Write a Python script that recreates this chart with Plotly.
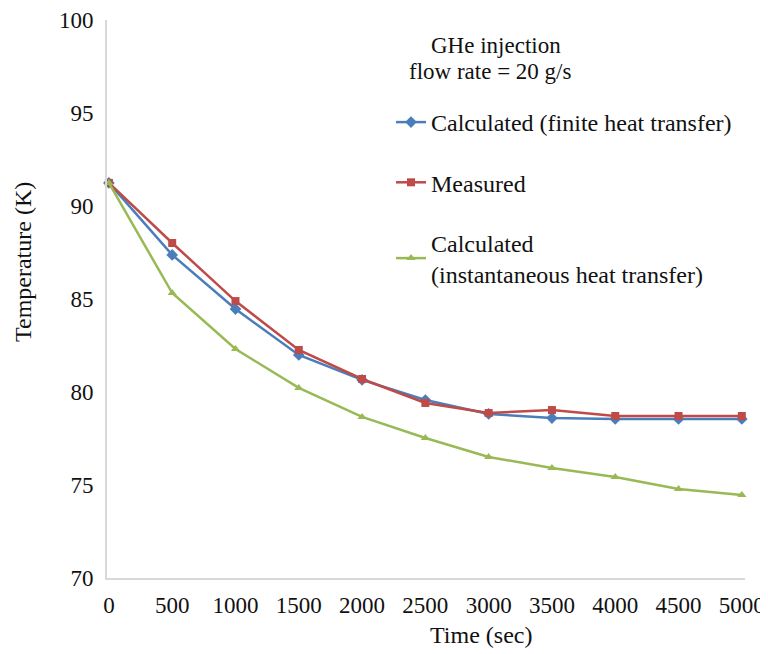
import plotly.graph_objects as go

time_s = [0, 500, 1000, 1500, 2000, 2500, 3000, 3500, 4000, 4500, 5000]
calc_finite = [91.24, 87.37, 84.46, 81.99, 80.65, 79.57, 78.82, 78.60, 78.55, 78.55, 78.55]
measured = [91.24, 88.01, 84.89, 82.26, 80.70, 79.41, 78.87, 79.03, 78.71, 78.71, 78.71]
calc_instant = [91.24, 85.32, 82.31, 80.22, 78.66, 77.53, 76.51, 75.91, 75.43, 74.78, 74.46]

x_ticks = [0, 500, 1000, 1500, 2000, 2500, 3000, 3500, 4000, 4500, 5000]
y_ticks = [70, 75, 80, 85, 90, 95, 100]

FONT = "Liberation Serif"
TXT = "#111111"

# page body has an 8px margin; work in screen pixels and convert
OFF = 8
W, H = 760, 646
PL, PR, PT, PB = 107, 745, 20, 578  # plot area in screen px


def px(xs):
    return (xs - PL) / (PR - PL)


def py(ys):
    return (PB - ys) / (PB - PT)


fig = go.Figure()
fig.add_trace(go.Scatter(
    x=time_s, y=calc_finite, name="Calculated (finite heat transfer)",
    mode="lines+markers", legendgroup="a",
    line=dict(color="#4A7EBB", width=2.5),
    marker=dict(symbol="diamond", size=9, color="#4A7EBB"),
    cliponaxis=False,
))
fig.add_trace(go.Scatter(
    x=time_s, y=measured, name="Measured",
    mode="lines+markers", legendgroup="b",
    line=dict(color="#BE4B48", width=2.5),
    marker=dict(symbol="square", size=8, color="#BE4B48"),
    cliponaxis=False,
))
fig.add_trace(go.Scatter(
    x=time_s, y=calc_instant, name="Calculated<br>(instantaneous heat transfer)",
    mode="lines+markers", legendgroup="c",
    line=dict(color="#98B954", width=2.5),
    marker=dict(symbol="triangle-up", size=8, color="#98B954"),
    cliponaxis=False,
))

# legend heading (two lines)
fig.add_annotation(
    text="GHe injection", xref="paper", yref="paper", x=px(496), y=py(45),
    xanchor="center", yanchor="middle", showarrow=False,
    font=dict(family=FONT, size=23, color=TXT),
)
fig.add_annotation(
    text="flow rate = 20 g/s", xref="paper", yref="paper", x=px(490), y=py(72),
    xanchor="center", yanchor="middle", showarrow=False,
    font=dict(family=FONT, size=23, color=TXT),
)
# axis titles
fig.add_annotation(
    text="Time (sec)", xref="paper", yref="paper", x=px(481), y=py(635),
    xanchor="center", yanchor="middle", showarrow=False,
    font=dict(family=FONT, size=24, color=TXT),
)
fig.add_annotation(
    text="Temperature (K)", xref="paper", yref="paper", x=px(23), y=py(262),
    textangle=-90, xanchor="center", yanchor="middle", showarrow=False,
    font=dict(family=FONT, size=24, color=TXT),
)

fig.update_layout(
    width=W, height=H,
    margin=dict(l=PL - OFF, r=W - (PR - OFF), t=PT - OFF, b=H - (PB - OFF), autoexpand=False),
    paper_bgcolor="white", plot_bgcolor="white",
    font=dict(family=FONT, size=24, color=TXT),
    showlegend=True,
    legend=dict(
        x=px(391), y=py(100), xanchor="left", yanchor="top",
        traceorder="grouped", tracegroupgap=26,
        font=dict(family=FONT, size=24, color=TXT),
        bgcolor="rgba(0,0,0,0)", itemwidth=30,
    ),
    xaxis=dict(
        range=[-15, 5025], tickvals=x_ticks, ticktext=[str(v) for v in x_ticks],
        showgrid=False, zeroline=False, showline=True, automargin=False,
        linecolor="#D9D9D9", linewidth=2, ticks="",
        ticklabelstandoff=5,
        tickfont=dict(family=FONT, size=23, color=TXT),
    ),
    yaxis=dict(
        range=[70, 100], tickvals=y_ticks,
        showgrid=False, zeroline=False, showline=True, automargin=False,
        linecolor="#D9D9D9", linewidth=2, ticks="",
        ticklabelstandoff=7,
        tickfont=dict(family=FONT, size=23, color=TXT),
    ),
)

fig.write_html("out.html")
